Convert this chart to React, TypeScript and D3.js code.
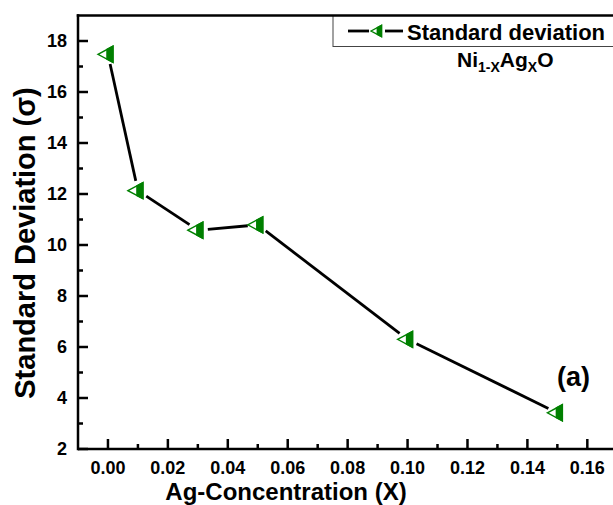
import React from "react";
import { scaleLinear, range } from "d3";

// Ag concentration (X) vs standard deviation
const concentration = [0.0, 0.01, 0.03, 0.05, 0.1, 0.15];
const stdDeviation = [17.48, 12.13, 10.58, 10.79, 6.3, 3.42];
const xTickValues = [0, 0.02, 0.04, 0.06, 0.08, 0.1, 0.12, 0.14, 0.16];
const yTickValues = [2, 4, 6, 8, 10, 12, 14, 16, 18];

const GREEN = "#008000";
const font = "'Liberation Sans', Arial, sans-serif";

function Marker({ x, y, s = 1 }: { x: number; y: number; s?: number }) {
  const tip = x - 10 * s;
  const base = x + 5 * s;
  const mid = x - 1 * s;
  const h = 8 * s;
  const hm = (h * (mid - tip)) / (base - tip);
  return (
    <g>
      <polygon
        points={`${tip},${y} ${base},${y - h} ${base},${y + h}`}
        fill="white"
        stroke={GREEN}
        strokeWidth={1.4}
      />
      <polygon
        points={`${mid},${y - hm} ${base},${y - h} ${base},${y + h} ${mid},${y + hm}`}
        fill={GREEN}
        stroke={GREEN}
        strokeWidth={1.4}
      />
    </g>
  );
}

function App() {
  const width = 613;
  const height = 505;
  const margin = { left: 78, top: 15.5, bottom: 449 };

  const x = scaleLinear().domain([-0.01, 0.17]).range([margin.left, margin.left + 0.18 * 2996]);
  const y = scaleLinear().domain([2, 19]).range([margin.bottom, margin.top]);

  const xMinor = range(0.01, 0.17, 0.02);
  const yMinor = range(3, 19, 2);

  const pts = concentration.map((c, i) => [x(c), y(stdDeviation[i])]);
  const gap = 10;
  const segments = pts.slice(1).map((p, i) => {
    const q = pts[i];
    const dx = p[0] - q[0];
    const dy = p[1] - q[1];
    const len = Math.hypot(dx, dy);
    const ux = dx / len;
    const uy = dy / len;
    return [q[0] + ux * gap, q[1] + uy * gap, p[0] - ux * gap, p[1] - uy * gap];
  });

  return (
    <svg
      width={width}
      height={height}
      style={{ position: "absolute", left: 0, top: 0, background: "white" }}
      fontFamily={font}
      fontWeight="bold"
    >
      {/* frame */}
      <line x1={margin.left} x2={margin.left} y1={y(19) - 1.25} y2={margin.bottom + 1.25} stroke="black" strokeWidth={2.5} />
      <line x1={margin.left} x2={width} y1={margin.bottom} y2={margin.bottom} stroke="black" strokeWidth={2.5} />

      {/* x ticks */}
      {xTickValues.map((t) => (
        <g key={"xt" + t}>
          <line x1={x(t)} x2={x(t)} y1={margin.bottom} y2={margin.bottom - 10} stroke="black" strokeWidth={2.5} />
          <text x={x(t)} y={474} textAnchor="middle" fontSize={18}>
            {t.toFixed(2)}
          </text>
        </g>
      ))}
      {xMinor.map((t) => (
        <line key={"xm" + t} x1={x(t)} x2={x(t)} y1={margin.bottom} y2={margin.bottom - 5} stroke="black" strokeWidth={2.5} />
      ))}

      {/* y ticks */}
      {yTickValues.map((t) => (
        <g key={"yt" + t}>
          <line x1={margin.left} x2={margin.left + 10} y1={y(t)} y2={y(t)} stroke="black" strokeWidth={2.5} />
          <text x={67} y={y(t)} dy="0.36em" textAnchor="end" fontSize={18}>
            {t}
          </text>
        </g>
      ))}
      {yMinor.map((t) => (
        <line key={"ym" + t} x1={margin.left} x2={margin.left + 5} y1={y(t)} y2={y(t)} stroke="black" strokeWidth={2.5} />
      ))}

      {/* axis titles */}
      <text x={286} y={500} textAnchor="middle" fontSize={24}>
        Ag-Concentration (X)
      </text>
      <text transform={`translate(35,243) rotate(-90)`} textAnchor="middle" fontSize={29}>
        Standard Deviation (σ)
      </text>

      {/* data line */}
      {segments.map((s, i) => (
        <line key={"s" + i} x1={s[0]} y1={s[1]} x2={s[2]} y2={s[3]} stroke="black" strokeWidth={2.8} />
      ))}
      {pts.map((p, i) => (
        <Marker key={"m" + i} x={p[0]} y={p[1]} />
      ))}

      {/* legend */}
      <rect x={333} y={15.5} width={300} height={31} fill="white" stroke="#444" strokeWidth={1} />
      <line x1={348} x2={369} y1={31} y2={31} stroke="black" strokeWidth={2.8} />
      <line x1={385} x2={403} y1={31} y2={31} stroke="black" strokeWidth={2.8} />
      <Marker x={378} y={31} s={0.7} />
      <text x={407} y={40} fontSize={22}>
        Standard deviation
      </text>
      <line x1={margin.left - 1.25} x2={width} y1={y(19)} y2={y(19)} stroke="black" strokeWidth={2.5} />

      <text x={457} y={67} fontSize={21}>
        Ni
        <tspan fontSize={14} dy={5}>1-X</tspan>
        <tspan dy={-5}>Ag</tspan>
        <tspan fontSize={14} dy={5}>X</tspan>
        <tspan dy={-5}>O</tspan>
      </text>

      <text x={557} y={386} fontSize={27}>
        (a)
      </text>
    </svg>
  );
}

export default App;
